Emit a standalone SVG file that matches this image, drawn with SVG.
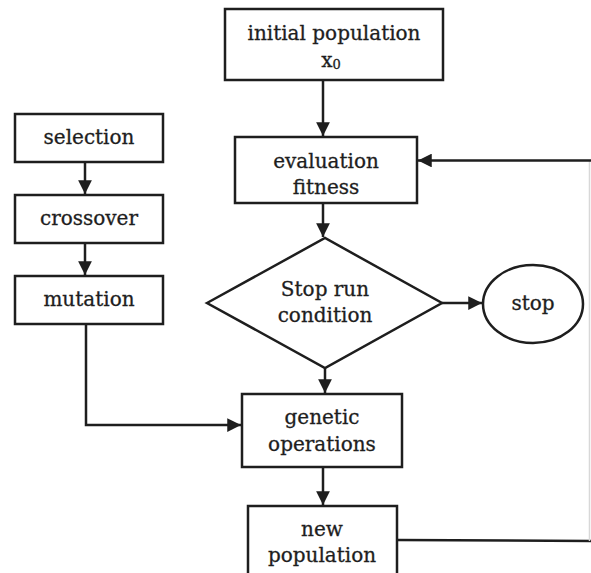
<svg xmlns="http://www.w3.org/2000/svg" width="591" height="573" viewBox="0 0 591 573">
<style>
.box{fill:#fff;stroke:#1e1e1e;stroke-width:2.5}
.t{font-family:"DejaVu Serif","Liberation Serif",serif;font-size:20px;fill:#1e1e1e;stroke:#1e1e1e;stroke-width:0.3;text-anchor:middle}
.c{fill:none;stroke:#1e1e1e;stroke-width:2.5}
</style>
<defs>
<marker id="ah" viewBox="0 0 10 10" refX="10" refY="5" markerWidth="6" markerHeight="5.5" orient="auto" markerUnits="strokeWidth">
<path d="M0,0 L10,5 L0,10 z" fill="#1e1e1e"/>
</marker>
</defs>
<rect width="591" height="573" fill="#fff"/>
<g id="connectors">
<line class="c" x1="323" y1="80" x2="323" y2="136" marker-end="url(#ah)"/>
<line class="c" x1="323" y1="203" x2="323" y2="237" marker-end="url(#ah)"/>
<line class="c" x1="325" y1="368" x2="325" y2="393" marker-end="url(#ah)"/>
<line class="c" x1="323" y1="467" x2="323" y2="505" marker-end="url(#ah)"/>
<line class="c" x1="442" y1="303" x2="482" y2="303" marker-end="url(#ah)"/>
<line class="c" x1="85" y1="162" x2="85" y2="194" marker-end="url(#ah)"/>
<line class="c" x1="85" y1="243" x2="85" y2="275" marker-end="url(#ah)"/>
<polyline class="c" points="86,324 86,425 241,425" marker-end="url(#ah)"/>
<polyline class="c" points="397,540 591,541"/>
<line x1="589.5" y1="160" x2="589.5" y2="541" stroke="#d8d8d8" stroke-width="1.5"/>
<line class="c" x1="591" y1="160.5" x2="418" y2="160.5" marker-end="url(#ah)"/>
</g>
<g id="initial">
<rect class="box" x="225" y="9" width="218" height="71"/>
<text class="t" x="334" y="40">initial population</text>
<text class="t" x="331" y="67">x<tspan font-size="13" dy="2">0</tspan></text>
</g>
<g id="evaluation">
<rect class="box" x="235" y="137" width="182" height="66"/>
<text class="t" x="326" y="168">evaluation</text>
<text class="t" x="326" y="194">fitness</text>
</g>
<g id="selection">
<rect class="box" x="15" y="114" width="148" height="48"/>
<text class="t" x="89" y="144">selection</text>
</g>
<g id="crossover">
<rect class="box" x="15" y="195" width="148" height="48"/>
<text class="t" x="89" y="225">crossover</text>
</g>
<g id="mutation">
<rect class="box" x="15" y="276" width="148" height="48"/>
<text class="t" x="89" y="306">mutation</text>
</g>
<g id="condition">
<polygon class="box" points="207,303 325,238 442,303 325,368"/>
<text class="t" x="325" y="296">Stop run</text>
<text class="t" x="325" y="322">condition</text>
</g>
<g id="stop">
<ellipse class="box" cx="533" cy="304" rx="50" ry="39"/>
<text class="t" x="533" y="310">stop</text>
</g>
<g id="genetic">
<rect class="box" x="242" y="394" width="160" height="73"/>
<text class="t" x="322" y="424">genetic</text>
<text class="t" x="322" y="451">operations</text>
</g>
<g id="newpop">
<rect class="box" x="248" y="506" width="149" height="80"/>
<text class="t" x="322" y="536">new</text>
<text class="t" x="322" y="562">population</text>
</g>
</svg>
